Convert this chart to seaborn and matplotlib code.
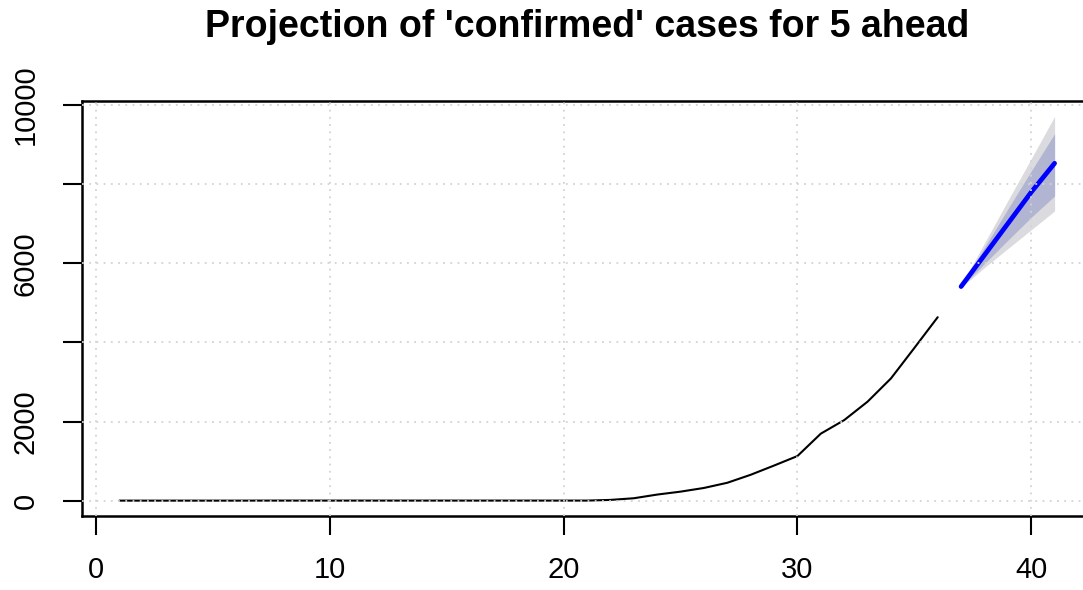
import numpy as np
import pandas as pd
import matplotlib
matplotlib.use("Agg")
import matplotlib.pyplot as plt
import seaborn as sns

## observed confirmed cases (day index from first case)
days = list(range(1, 37))
confirmed = [2, 2, 2, 2, 2, 2, 3, 3, 3, 3, 3, 3, 3, 3, 3, 3, 3, 3, 3, 3, 3,
             20, 62, 155, 229, 322, 453, 655, 888, 1128, 1694, 2036, 2502,
             3089, 3858, 4636]

## 5 step projection with 80 / 95 intervals
fc_days = [37, 38, 39, 40, 41]
fc_mean = [5410, 6205, 7000, 7795, 8525]
lo80 = [5395, 5990, 6580, 7160, 7700]
hi80 = [5425, 6400, 7370, 8330, 9270]
lo95 = [5385, 5890, 6370, 6845, 7320]
hi95 = [5440, 6510, 7580, 8640, 9710]

x_ticks = [0, 10, 20, 30, 40]
y_ticks = [0, 2000, 4000, 6000, 8000, 10000]
y_labels = ["0", "2000", "", "6000", "", "10000"]

obs = pd.DataFrame({"day": days, "cases": confirmed})
fc = pd.DataFrame({"day": fc_days, "cases": fc_mean})

sns.set_theme(style="white")
plt.rcParams['font.family'] = ['Liberation Sans', 'DejaVu Sans']

fig = plt.figure(figsize=(10.83, 5.90), dpi=100)
ax = fig.add_axes([82 / 1083, 1 - 516 / 590, (1092 - 82) / 1083, (516 - 101) / 590])

ax.fill_between(fc_days, lo95, hi95, color="#DBDBDF", linewidth=0, zorder=1)
ax.fill_between(fc_days, lo80, hi80, color="#B1B5D1", linewidth=0, zorder=2)

sns.lineplot(data=obs, x="day", y="cases", color="black", linewidth=1.5, ax=ax, zorder=3)
sns.lineplot(data=fc, x="day", y="cases", color="#0000FF", linewidth=3.4, ax=ax, zorder=4,
             solid_capstyle="round")

## R style axis limits (4% extension)
xlo, xhi = min(days), max(fc_days)
ylo, yhi = min(confirmed), max(hi95)
ax.set_xlim(xlo - 0.04 * (xhi - xlo), xhi + 0.04 * (xhi - xlo))
ax.set_ylim(ylo - 0.04 * (yhi - ylo), yhi + 0.04 * (yhi - ylo))

## dotted grid on top, like grid() after plot
for xv in x_ticks:
    ax.axvline(xv, color="#D3D3D3", linestyle=(0, (1, 3)), linewidth=1.3, zorder=5)
for yv in y_ticks:
    ax.axhline(yv, color="#D3D3D3", linestyle=(0, (1, 3)), linewidth=1.3, zorder=5)

ax.set_xticks(x_ticks)
ax.set_yticks(y_ticks)
ax.set_yticklabels(y_labels)
plt.setp(ax.get_yticklabels(), rotation=90, va="center")
ax.tick_params(axis="both", which="major", direction="out", length=13.5, width=1.5,
               color="black", labelsize=21, labelcolor="black", left=True, bottom=True)
ax.tick_params(axis="y", pad=17)
ax.tick_params(axis="x", pad=15)
ax.set_xlabel("")
ax.set_ylabel("")

for s in ax.spines.values():
    s.set_color("black")
    s.set_linewidth(1.8)

ax.set_title("Projection of 'confirmed' cases for 5 ahead", fontsize=27,
             fontweight="bold", color="black", pad=46)

fig.savefig("out.png", dpi=100)
